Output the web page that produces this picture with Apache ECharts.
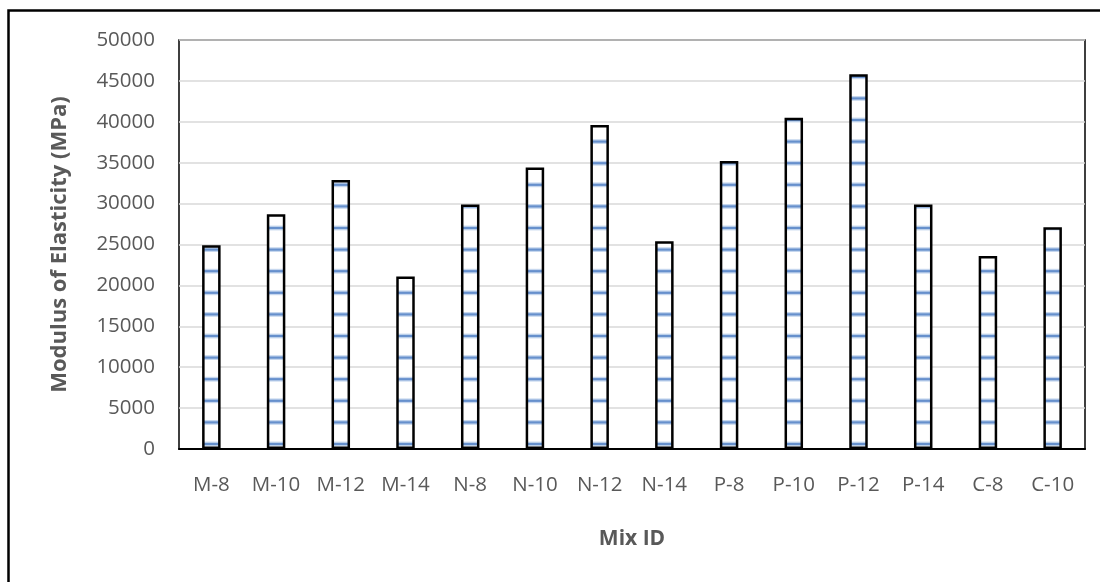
<!DOCTYPE html>
<html>
<head>
<meta charset="utf-8">
<style>
  html, body { margin: 0; padding: 0; background: #fff; }
  #chart { width: 1100px; height: 582px; }
</style>
<script src="https://cdn.jsdelivr.net/npm/echarts@6/dist/echarts.min.js"></script>
</head>
<body>
<div id="chart"></div>
<script>
// Mix IDs and measured modulus of elasticity (MPa)
const categories = ['M-8', 'M-10', 'M-12', 'M-14', 'N-8', 'N-10', 'N-12', 'N-14', 'P-8', 'P-10', 'P-12', 'P-14', 'C-8', 'C-10'];
const modulusValues = [24900, 28700, 32900, 21100, 29900, 34400, 39600, 25400, 35200, 40500, 45800, 29900, 23600, 27100];
const yTicks = { min: 0, max: 50000, interval: 5000 };

const FONT = '"Open Sans", "Noto Sans", sans-serif';
const TEXT_GRAY = '#595959';

// Horizontal stripe texture for the bar fill (tiles from the canvas origin)
function makeStripePattern() {
  const c = document.createElement('canvas');
  const H = 582;
  c.width = 8;
  c.height = H;
  const ctx = c.getContext('2d');
  ctx.fillStyle = '#ffffff';
  ctx.fillRect(0, 0, c.width, H);
  const step = 21.6;
  for (let y = 444; y > 0; y -= step) {
    ctx.fillStyle = '#c6d7ee';
    ctx.fillRect(0, y - 2.4, c.width, 4.8);
    ctx.fillStyle = '#6690cc';
    ctx.fillRect(0, y - 1.1, c.width, 2.2);
  }
  return c;
}

const chart = echarts.init(document.getElementById('chart'), null, { renderer: 'canvas' });

chart.setOption({
  animation: false,
  backgroundColor: '#ffffff',
  grid: {
    left: 179, top: 40, right: 15, bottom: 133,
    show: true, borderColor: '#000000', borderWidth: 1.5, backgroundColor: 'transparent'
  },
  xAxis: {
    type: 'category',
    data: categories,
    name: 'Mix ID',
    nameLocation: 'middle',
    nameGap: 80,
    nameTextStyle: { fontFamily: FONT, fontSize: 21, fontWeight: 'bold', color: TEXT_GRAY },
    axisLine: { show: true, lineStyle: { color: '#000000', width: 2 } },
    axisTick: { show: false },
    axisLabel: { fontFamily: FONT, fontSize: 20.5, color: TEXT_GRAY, margin: 26, interval: 0 }
  },
  yAxis: {
    type: 'value',
    min: yTicks.min,
    max: yTicks.max,
    interval: yTicks.interval,
    name: 'Modulus of Elasticity (MPa)',
    nameLocation: 'middle',
    nameGap: 108,
    nameTextStyle: { fontFamily: FONT, fontSize: 22, fontWeight: 'bold', color: TEXT_GRAY },
    axisLine: { show: false },
    axisTick: { show: false },
    axisLabel: {
      fontFamily: FONT, fontSize: 20.5, color: TEXT_GRAY, margin: 24,
      formatter: (v) => String(v)
    },
    splitLine: { show: true, lineStyle: { color: '#d9d9d9', width: 1.5 } }
  },
  series: [{
    type: 'bar',
    data: modulusValues,
    barWidth: 18.5,
    itemStyle: {
      color: { image: makeStripePattern(), repeat: 'repeat' },
      borderColor: '#000000',
      borderWidth: 2.5
    },
    emphasis: { disabled: true }
  }],
  graphic: [{
    type: 'rect',
    shape: { x: 8.5, y: 10.5, width: 1200, height: 700 },
    style: { fill: 'none', stroke: '#000000', lineWidth: 2.5 },
    silent: true,
    z: 100
  }]
});
</script>
</body>
</html>
